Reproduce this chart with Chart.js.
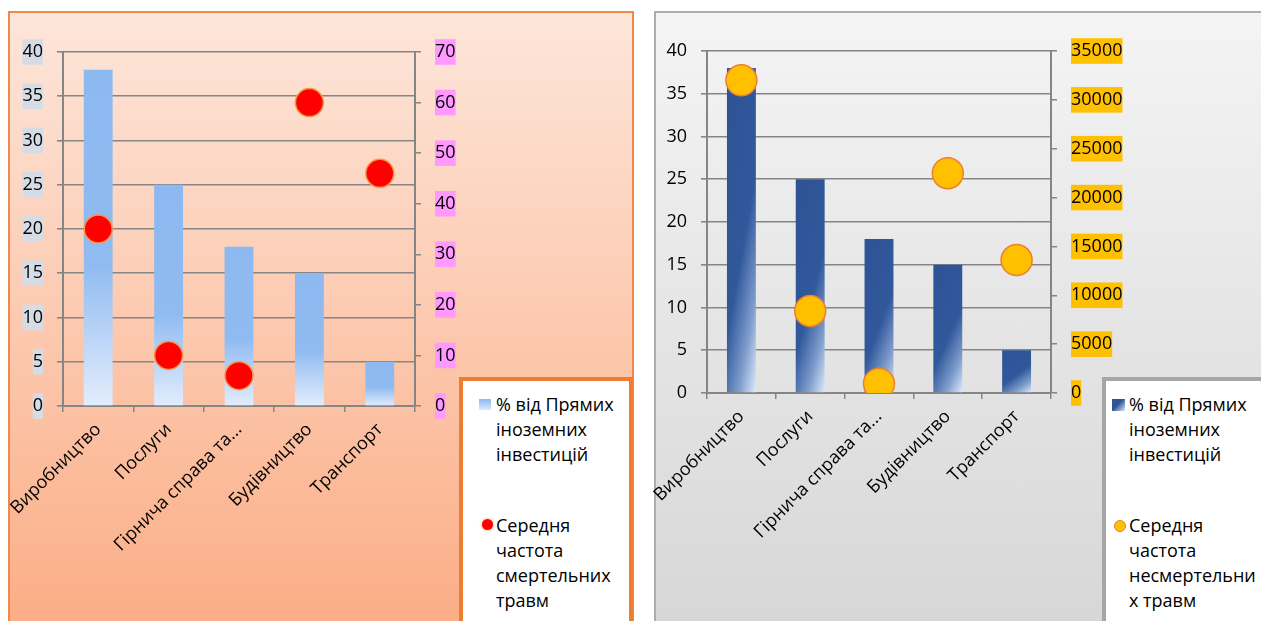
<!DOCTYPE html>
<html>
<head>
<meta charset="utf-8">
<script src="https://cdn.jsdelivr.net/npm/chart.js@4"></script>
<style>
  body { margin: 0; width: 1261px; height: 621px; overflow: hidden; background: #fff; position: relative; font-family: 'Open Sans', sans-serif; }
  .panel { position: absolute; box-sizing: border-box; }
  #panelA { left: 8px; top: 11px; width: 626px; height: 640px; border: 2px solid #F0894A; background: linear-gradient(#FDE6DA, #FBAB83); }
  #panelB { left: 654px; top: 11px; width: 640px; height: 640px; border: 2px solid #ADADAD; background: linear-gradient(#F4F4F4, #D6D6D6); }
  canvas { position: absolute; top: 0; }
  #chartA { left: 0; }
  #chartB { left: 640px; }
  .legend { position: absolute; box-sizing: border-box; background: #fff; top: 377px; height: 280px; }
  #legendA { left: 459px; width: 174px; border: 4px solid #ED7D31; }
  #legendB { left: 1102px; width: 180px; border: 4px solid #A6A6A6; }
  .entry { position: absolute; font-size: 18px; line-height: 25px; color: #000; white-space: nowrap; }
  .mark { position: absolute; }
</style>
</head>
<body>
<div class="panel" id="panelA"></div>
<div class="panel" id="panelB"></div>
<canvas id="chartA" width="620" height="621"></canvas>
<canvas id="chartB" width="621" height="621"></canvas>

<div class="legend" id="legendA">
  <div class="mark" style="left:16px;top:18px;width:12px;height:11px;background:linear-gradient(#8DB9F0,#DCE8FA);"></div>
  <div class="entry" style="left:33px;top:11px;">% від Прямих<br>іноземних<br>інвестицій</div>
  <div class="mark" style="left:19px;top:138px;width:11px;height:11px;border-radius:50%;background:#F00;box-shadow:0 0 3px #F79646;"></div>
  <div class="entry" style="left:33px;top:132px;">Середня<br>частота<br>смертельних<br>травм</div>
</div>
<div class="legend" id="legendB">
  <div class="mark" style="left:6px;top:18px;width:13px;height:12px;background:linear-gradient(135deg,#2F5597 45%,#DCEAFA);"></div>
  <div class="entry" style="left:23px;top:11px;">% від Прямих<br>іноземних<br>інвестицій</div>
  <div class="mark" style="left:8px;top:139px;width:10px;height:10px;border-radius:50%;background:#FFC000;border:1px solid #ED7D31;"></div>
  <div class="entry" style="left:23px;top:132px;">Середня<br>частота<br>несмертельни<br>х травм</div>
</div>

<script>
// categories and values
const categories = ["Виробництво", "Послуги", "Гірнича справа та...", "Будівництво", "Транспорт"];
const fdiShare = [38, 25, 18, 15, 5];             // % від Прямих іноземних інвестицій
const fatalRate = [35, 10, 6, 60, 46];            // Середня частота смертельних травм
const nonFatalRate = [32000, 8400, 950, 22500, 13600]; // Середня частота несмертельних травм

const shareTicks = [0, 5, 10, 15, 20, 25, 30, 35, 40];
const fatalTicks = [0, 10, 20, 30, 40, 50, 60, 70];
const nonFatalTicks = [0, 5000, 10000, 15000, 20000, 25000, 30000, 35000];

Chart.defaults.font.family = "'Open Sans', sans-serif";
Chart.defaults.font.size = 18;
Chart.defaults.color = "#000";

const gridGrey = "#858585";

function fixWidth(w) { return scale => { scale.width = w; }; }
// fixed axis height, and no extra side padding for the rotated labels
function fixHeight(h) {
  return scale => {
    scale.height = h;
    scale.paddingLeft = 0;
    scale.paddingRight = 0;
  };
}

// light blue bars: solid on top, fading to near white at the base
function lightBar(context) {
  const chart = context.chart;
  if (!chart.chartArea || context.parsed == null) return "#8DB9F0";
  const y = chart.scales.y;
  const top = y.getPixelForValue(context.parsed.y);
  const base = y.getPixelForValue(0);
  const g = chart.ctx.createLinearGradient(0, top, 0, base);
  g.addColorStop(0, "#8DB9F0");
  g.addColorStop(0.58, "#8FBBF1");
  g.addColorStop(0.8, "#BCD5F7");
  g.addColorStop(1, "#E2EDFC");
  return g;
}

// dark blue bars with a diagonal fade to the lower right corner
function darkBar(context) {
  const chart = context.chart;
  if (!chart.chartArea || context.parsed == null) return "#2F5597";
  const x = chart.scales.x, y = chart.scales.y;
  const cx = x.getPixelForValue(context.dataIndex);
  const w = x.width / categories.length * 0.42;
  const left = cx - w / 2;
  const top = y.getPixelForValue(context.parsed.y);
  const h = y.getPixelForValue(0) - top;
  const nx = h / 2, ny = w;
  const s = (w * h / 2 + h * w) / (nx * nx + ny * ny);
  const g = chart.ctx.createLinearGradient(left, top, left + s * nx, top + s * ny);
  g.addColorStop(0, "#2E5395");
  g.addColorStop(0.55, "#30589B");
  g.addColorStop(0.8, "#7F9DCC");
  g.addColorStop(1, "#DDEBFB");
  return g;
}

function makeChart(id, opts) {
  return new Chart(document.getElementById(id), {
    type: "bar",
    data: {
      labels: categories,
      datasets: [
        {
          type: "line",
          label: opts.dotLabel,
          data: opts.dots,
          yAxisID: "y1",
          showLine: false,
          order: 0,
          pointRadius: opts.dotRadius,
          pointHoverRadius: opts.dotRadius,
          pointBackgroundColor: opts.dotColor,
          pointBorderColor: opts.dotBorder,
          pointBorderWidth: 1.5
        },
        {
          label: "% від Прямих іноземних інвестицій",
          data: fdiShare,
          yAxisID: "y",
          order: 1,
          backgroundColor: opts.barFill,
          categoryPercentage: 1,
          barPercentage: opts.barPct
        }
      ]
    },
    options: {
      responsive: false,
      animation: false,
      layout: { padding: { top: opts.top, left: 0, right: 0, bottom: 0 } },
      plugins: { legend: { display: false }, tooltip: { enabled: false } },
      scales: {
        x: {
          offset: true,
          afterFit: fixHeight(opts.xHeight),
          grid: { offset: true, drawOnChartArea: false, color: gridGrey, lineWidth: 1.5, tickLength: 6 },
          border: { color: gridGrey, width: 2 },
          ticks: { minRotation: 45, maxRotation: 45, padding: 7, font: { size: 18 }, autoSkip: false }
        },
        y: {
          position: "left",
          min: shareTicks[0],
          max: shareTicks[shareTicks.length - 1],
          afterFit: fixWidth(opts.leftW),
          grid: { color: gridGrey, lineWidth: 1.6, tickLength: 6 },
          border: { color: gridGrey, width: 2 },
          ticks: {
            stepSize: shareTicks[1] - shareTicks[0],
            padding: 14,
            showLabelBackdrop: opts.leftBackdrop != null,
            backdropColor: opts.leftBackdrop || "rgba(0,0,0,0)",
            backdropPadding: { top: 2, bottom: 2, left: 0, right: 0 }
          }
        },
        y1: {
          position: "right",
          min: opts.rightTicks[0],
          max: opts.rightTicks[opts.rightTicks.length - 1],
          afterFit: fixWidth(opts.rightW),
          grid: { drawOnChartArea: false, color: gridGrey, lineWidth: 1.5, tickLength: 6 },
          border: { color: gridGrey, width: 2 },
          ticks: {
            stepSize: opts.rightTicks[1] - opts.rightTicks[0],
            padding: 14,
            callback: value => String(value),
            showLabelBackdrop: true,
            backdropColor: opts.rightBackdrop,
            backdropPadding: { top: 2, bottom: 2, left: 0, right: 0 }
          }
        }
      }
    }
  });
}

// left chart: fatal injuries
makeChart("chartA", {
  dots: fatalRate,
  dotLabel: "Середня частота смертельних травм",
  dotRadius: 14,
  dotColor: "#FF0000",
  dotBorder: "#F79646",
  barFill: lightBar,
  barPct: 0.41,
  top: 52,
  xHeight: 215,
  leftW: 63,
  rightW: 620 - 415,
  leftBackdrop: "#D6DCE5",
  rightBackdrop: "#FF99FF",
  rightTicks: fatalTicks
});

// right chart: non-fatal injuries
makeChart("chartB", {
  dots: nonFatalRate,
  dotLabel: "Середня частота несмертельних травм",
  dotRadius: 15.5,
  dotColor: "#FFC000",
  dotBorder: "#ED7D31",
  barFill: darkBar,
  barPct: 0.42,
  top: 51,
  xHeight: 228,
  leftW: 67,
  rightW: 621 - 411,
  leftBackdrop: null,
  rightBackdrop: "#FFC000",
  rightTicks: nonFatalTicks
});
</script>
</body>
</html>
